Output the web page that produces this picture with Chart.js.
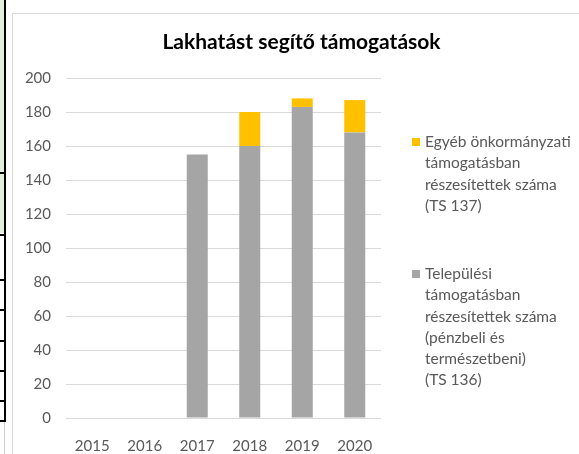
<!DOCTYPE html>
<html>
<head>
<meta charset="utf-8">
<title>Lakhatást segítő támogatások</title>
<script src="https://cdn.jsdelivr.net/npm/chart.js@4.4.1/dist/chart.umd.min.js"></script>
<style>
  html, body { margin: 0; padding: 0; background: #fff; overflow: hidden; }
  body { width: 579px; height: 454px; position: relative; font-family: Lato, "Open Sans", sans-serif; }
  /* spreadsheet cells peeking in on the left */
  #cells { position: absolute; left: 0; top: 0; width: 7px; height: 454px; }
  #cells .fill { position: absolute; left: 0; top: 0; width: 4px; height: 233px; background: #e2efda; }
  #cells .vline { position: absolute; left: 4px; top: 0; width: 2px; height: 421px; background: #000; }
  #cells .grey { position: absolute; left: 4px; top: 421px; width: 1px; height: 33px; background: #d0d0d0; }
  #cells .tick { position: absolute; left: 0; width: 6px; height: 2px; background: #000; }
  #box { position: absolute; left: 12px; top: 13px; width: 600px; height: 460px; border: 1px solid #d9d9d9; box-sizing: border-box; }
  #chart { position: absolute; left: 0; top: 0; }
  #legend { position: absolute; left: 0; top: 0; color: #595959; font-size: 15.5px; }
  .item { position: absolute; left: 412px; }
  .swatch { position: absolute; left: 0; width: 8px; height: 8px; }
  .lines { position: absolute; left: 13px; line-height: 21.3px; white-space: nowrap; }
</style>
</head>
<body>
<div id="cells"><div class="fill"></div><div class="vline"></div><div class="grey"></div></div>
<div id="box"><canvas id="chart" width="577" height="440"></canvas></div>
<div id="legend"></div>
<script>
// Adatok
const evek = ["2015", "2016", "2017", "2018", "2019", "2020"];
const telepulesi = [null, null, 155, 160, 183, 168];
const egyeb = [null, null, null, 20, 5, 19];
const telepulesiSorok = ["Települési", "támogatásban", "részesítettek száma", "(pénzbeli és", "természetbeni)", "(TS 136)"];
const egyebSorok = ["Egyéb önkormányzati", "támogatásban", "részesítettek száma", "(TS 137)"];
const cim = "Lakhatást segítő támogatások";

const szurke = "#a5a5a5";
const sarga = "#ffc000";

// cellahatarok a bal szelen
[172, 234, 279, 309, 340, 370, 400, 420].forEach((y) => {
  const t = document.createElement("div");
  t.className = "tick";
  t.style.top = y + "px";
  document.getElementById("cells").appendChild(t);
});

const chart = new Chart(document.getElementById("chart"), {
  type: "bar",
  data: {
    labels: evek,
    datasets: [
      { label: telepulesiSorok.join(" "), data: telepulesi, backgroundColor: szurke, lines: telepulesiSorok, legendTop: 263 },
      { label: egyebSorok.join(" "), data: egyeb, backgroundColor: sarga, lines: egyebSorok, legendTop: 131 },
    ],
  },
  options: {
    responsive: false,
    animation: false,
    categoryPercentage: 1,
    barPercentage: 0.4,
    layout: { padding: 0 },
    plugins: {
      legend: { display: false },
      tooltip: { enabled: false },
      title: {
        display: true,
        text: cim,
        color: "#000",
        font: { family: "Lato", size: 21, weight: "bold", lineHeight: "24px" },
        padding: { top: 16, bottom: 24 },
      },
    },
    scales: {
      x: {
        stacked: true,
        grid: { display: false },
        border: { display: false },
        ticks: { color: "#595959", font: { family: "Lato", size: 15 }, padding: 11 },
        afterFit: (s) => { s.height = 36; },
      },
      y: {
        stacked: true,
        min: 0,
        max: 200,
        grid: { color: "#d9d9d9", lineWidth: 1, drawTicks: false },
        border: { display: false },
        ticks: { stepSize: 20, color: "#595959", font: { family: "Lato", size: 15 }, padding: 15 },
        afterFit: (s) => { s.width = 53; },
      },
      // helyfoglalo a jelmagyarazatnak, hogy a cim a teljes dobozon legyen kozepen
      hely: {
        type: "linear",
        position: "right",
        display: true,
        grid: { display: false },
        border: { display: false },
        ticks: { display: false },
        afterFit: (s) => { s.width = 209; },
      },
    },
  },
});

// jelmagyarazat (forditott sorrend, mint az Excelben)
const legend = document.getElementById("legend");
chart.data.datasets.slice().reverse().forEach((ds) => {
  const item = document.createElement("div");
  item.className = "item";
  item.style.top = ds.legendTop + "px";
  const sw = document.createElement("div");
  sw.className = "swatch";
  sw.style.background = ds.backgroundColor;
  sw.style.top = "7px";
  const txt = document.createElement("div");
  txt.className = "lines";
  txt.innerHTML = ds.lines.map((l) => "<div>" + l + "</div>").join("");
  item.appendChild(sw);
  item.appendChild(txt);
  legend.appendChild(item);
});
</script>
</body>
</html>
